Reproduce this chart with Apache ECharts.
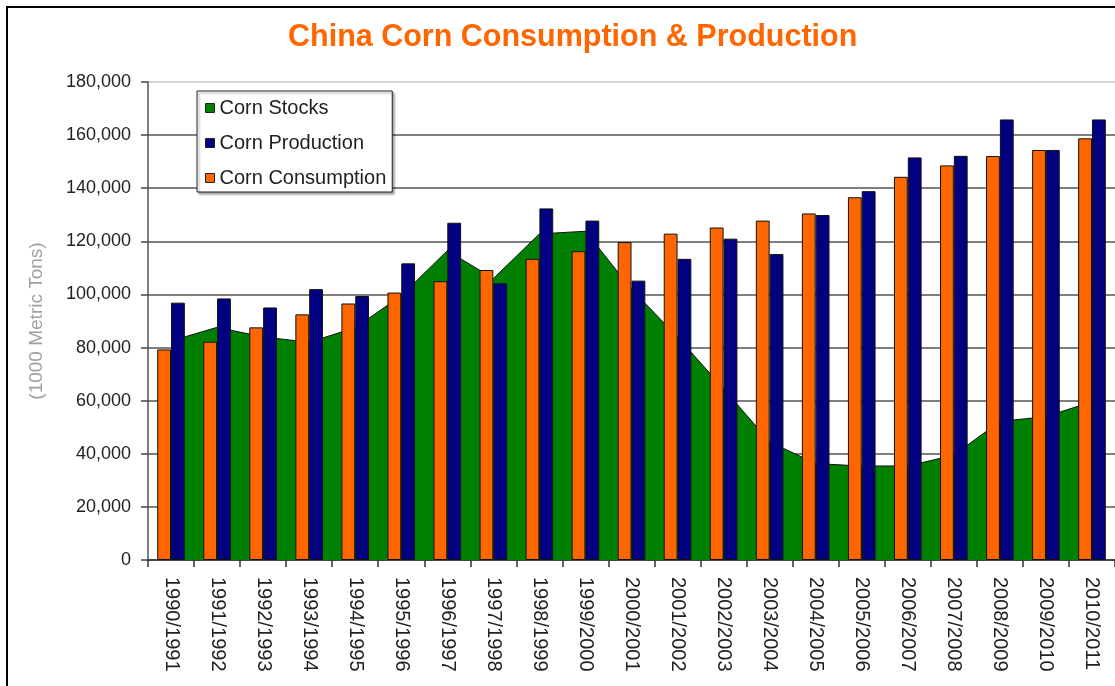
<!DOCTYPE html>
<html>
<head>
<meta charset="utf-8">
<script src="https://cdn.jsdelivr.net/npm/echarts@6/dist/echarts.min.js"></script>
<style>
html,body{margin:0;padding:0;background:#fff;}
#chart{width:1115px;height:686px;}
</style>
</head>
<body>
<div id="chart"></div>
<script>
var categories = ['1990/1991','1991/1992','1992/1993','1993/1994','1994/1995','1995/1996','1996/1997','1997/1998','1998/1999','1999/2000','2000/2001','2001/2002','2002/2003','2003/2004','2004/2005','2005/2006','2006/2007','2007/2008','2008/2009','2009/2010','2010/2011'];
var cornStocks = [82500,87600,84000,82000,87500,99500,116500,106000,122800,123800,102000,84000,64500,44500,36300,35400,35400,39500,52200,54000,59600];
var cornProduction = [96900,98500,95100,102000,99400,111700,127000,104200,132400,127800,105200,113400,121000,115200,129900,138900,151600,152200,165900,154400,165900];
var cornConsumption = [79300,82200,87600,92500,96600,100700,105000,109200,113400,116300,119700,122900,125200,127800,130500,136600,144300,148600,152100,154400,158800];
var yTicks = {min:0, max:180000, interval:20000};

var chart = echarts.init(document.getElementById('chart'));
var gridColors = ['#555','#555','#555','#555','#555','#555','#555','#555','#555','#c8c8c8'];
chart.setOption({
  animation:false,
  backgroundColor:'#fff',
  title:{
    text:'China Corn Consumption & Production',
    left:283, top:17,
    textStyle:{color:'#FF6600', fontSize:30.5, fontWeight:'bold', fontFamily:'Liberation Sans, Arial, sans-serif'}
  },
  graphic:[{
    type:'rect', shape:{x:7,y:7,width:1200,height:720},
    style:{fill:'none', stroke:'#000', lineWidth:2}, silent:true, z:100
  }],
  legend:{
    orient:'vertical', left:197, top:91,
    data:['Corn Stocks','Corn Production','Corn Consumption'],
    icon:'rect', itemWidth:9, itemHeight:9, itemGap:15,
    padding:[7,6,4,8],
    backgroundColor:'#fff', borderColor:'#222', borderWidth:1,
    shadowColor:'rgba(0,0,0,0.35)', shadowBlur:2, shadowOffsetX:2, shadowOffsetY:2,
    itemStyle:{borderColor:'#222', borderWidth:1},
    textStyle:{color:'#222', fontSize:20, lineHeight:20, fontFamily:'Liberation Sans, Arial, sans-serif'}
  },
  grid:{left:148, top:82, width:983, height:478, containLabel:false},
  xAxis:{
    type:'category', data:categories, boundaryGap:true,
    axisLine:{lineStyle:{color:'#333', width:1.5}},
    axisTick:{show:true, interval:0, length:7, lineStyle:{color:'#333', width:1.5}},
    axisLabel:{interval:0, rotate:-90, margin:17, color:'#222', fontSize:20, fontFamily:'Liberation Sans, Arial, sans-serif'}
  },
  yAxis:{
    type:'value', min:yTicks.min, max:yTicks.max, interval:yTicks.interval,
    name:'(1000 Metric Tons)', nameLocation:'middle', nameGap:102, nameRotate:90,
    nameTextStyle:{color:'#a0a0a0', fontSize:19, fontFamily:'Liberation Sans, Arial, sans-serif'},
    axisLine:{show:true, lineStyle:{color:'#555', width:1.5}},
    axisTick:{show:true, length:7, lineStyle:{color:'#444', width:1.5}},
    axisLabel:{margin:17, color:'#222', fontSize:18, fontFamily:'Liberation Sans, Arial, sans-serif',
      formatter:function(v){return v.toLocaleString('en-US');}},
    splitLine:{show:true, lineStyle:{color:gridColors, width:1.5}}
  },
  series:[
    {
      name:'Corn Stocks', type:'line', data:cornStocks, z:1,
      showSymbol:false, symbol:'none',
      itemStyle:{color:'#008000'},
      lineStyle:{color:'#111', width:1},
      areaStyle:{color:'#008000', opacity:1}
    },
    {
      name:'Corn Consumption', type:'bar', data:cornConsumption, z:3,
      barGap:'0%', barCategoryGap:'40%',
      itemStyle:{color:'#FF6600', borderColor:'#111', borderWidth:1}
    },
    {
      name:'Corn Production', type:'bar', data:cornProduction, z:3,
      barGap:'0%', barCategoryGap:'40%',
      itemStyle:{color:'#000080', borderColor:'#111', borderWidth:1}
    }
  ]
});
</script>
</body>
</html>
